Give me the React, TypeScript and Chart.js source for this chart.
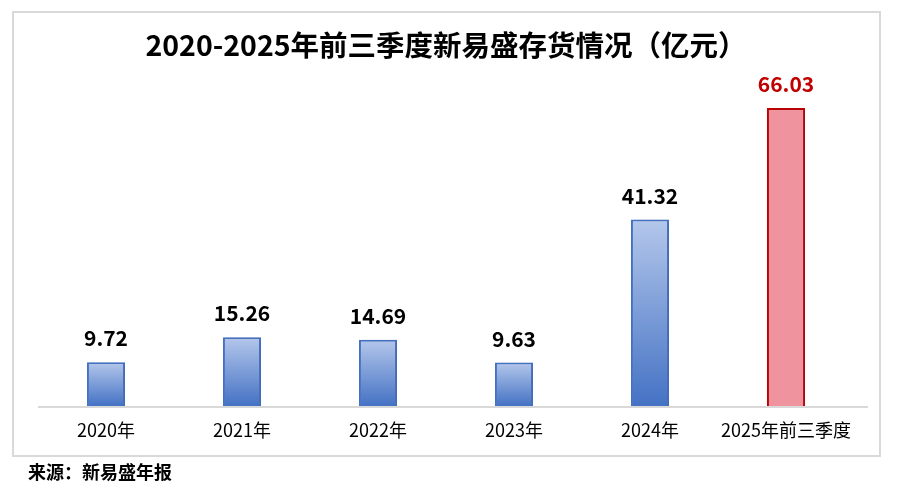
import React, { useEffect, useRef } from "react";
import { Chart, registerables } from "chart.js";

Chart.register(...registerables);

const categories = ["2020年", "2021年", "2022年", "2023年", "2024年", "2025年前三季度"];
const values = [9.72, 15.26, 14.69, 9.63, 41.32, 66.03];
const highlightIndex = 5;
const titleText = "2020-2025年前三季度新易盛存货情况（亿元）";
const sourceText = "来源：新易盛年报";

const FONT = '"Noto Sans CJK SC", "Noto Sans", sans-serif';

export default function App() {
  const ref = useRef<HTMLCanvasElement>(null);

  useEffect(() => {
    const canvas = ref.current;
    if (!canvas) return;

    const decor = {
      id: "decor",
      beforeDraw(chart: any) {
        const c = chart.ctx;
        c.save();
        c.fillStyle = "#ffffff";
        c.fillRect(0, 0, chart.width, chart.height);
        c.strokeStyle = "#d9d9d9";
        c.lineWidth = 2;
        c.strokeRect(13, 12, 867, 444);
        c.fillStyle = "#000";
        c.font = `bold 28.5px ${FONT}`;
        c.textAlign = "center";
        c.textBaseline = "middle";
        c.fillText(titleText, 446, 45);
        c.font = `bold 18px ${FONT}`;
        c.textAlign = "left";
        c.fillText(sourceText, 28, 472);
        // axis line
        const yb = chart.chartArea.bottom;
        c.strokeStyle = "#d9d9d9";
        c.lineWidth = 2;
        c.beginPath();
        c.moveTo(38, yb + 1);
        c.lineTo(868, yb + 1);
        c.stroke();
        c.restore();
      },
      beforeDatasetDraw(chart: any) {
        const c = chart.ctx;
        c.save();
        c.shadowColor = "rgba(60,70,110,0.22)";
        c.shadowBlur = 6;
        c.shadowOffsetX = 3;
        c.shadowOffsetY = 1;
      },
      afterDatasetDraw(chart: any) {
        chart.ctx.restore();
      },
      afterDatasetsDraw(chart: any) {
        const c = chart.ctx;
        const meta = chart.getDatasetMeta(0);
        c.save();
        c.font = `bold 21px ${FONT}`;
        c.textAlign = "center";
        c.textBaseline = "alphabetic";
        meta.data.forEach((bar: any, i: number) => {
          c.fillStyle = i === highlightIndex ? "#c00000" : "#000000";
          c.fillText(values[i].toFixed(2), bar.x, bar.y - 16);
        });
        c.restore();
      },
    };

    const chart = new Chart(canvas, {
      type: "bar",
      data: {
        labels: categories,
        datasets: [
          {
            data: values,
            backgroundColor: (ctx: any) => {
              const i = ctx.dataIndex;
              if (i === highlightIndex) return "#ef949f";
              const chartObj = ctx.chart;
              const y = chartObj.scales?.y;
              if (!chartObj.chartArea || !y || i === undefined) return "#7f9fdc";
              const top = y.getPixelForValue(values[i]);
              const bottom = y.getPixelForValue(0);
              const g = chartObj.ctx.createLinearGradient(0, top, 0, bottom);
              g.addColorStop(0, "#b4c7eb");
              g.addColorStop(1, "#4472c4");
              return g;
            },
            borderColor: categories.map((_, i) => (i === highlightIndex ? "#c00000" : "#4472c4")),
            borderWidth: 2,
            borderSkipped: "bottom",
            barPercentage: 0.28,
            categoryPercentage: 1,
          },
        ],
      },
      options: {
        responsive: false,
        animation: false,
        devicePixelRatio: 1,
        layout: { padding: { left: 38, right: 57, top: 45, bottom: 0 } },
        plugins: {
          legend: { display: false },
          title: { display: false },
          tooltip: { enabled: false },
        },
        scales: {
          x: {
            grid: { display: false, drawTicks: false },
            border: { display: false },
            ticks: {
              color: "#000",
              font: { family: FONT, size: 18 },
              padding: 13,
              maxRotation: 0,
              autoSkip: false,
            },
            afterFit: (scale: any) => {
              scale.height = 96;
            },
          },
          y: {
            display: false,
            min: 0,
            max: 80,
          },
        },
      },
      plugins: [decor],
    });

    return () => chart.destroy();
  }, []);

  return (
    <div style={{ position: "absolute", left: 0, top: 0, width: 911, height: 502, background: "#fff" }}>
      <canvas ref={ref} width={911} height={502} style={{ display: "block" }} />
    </div>
  );
}
